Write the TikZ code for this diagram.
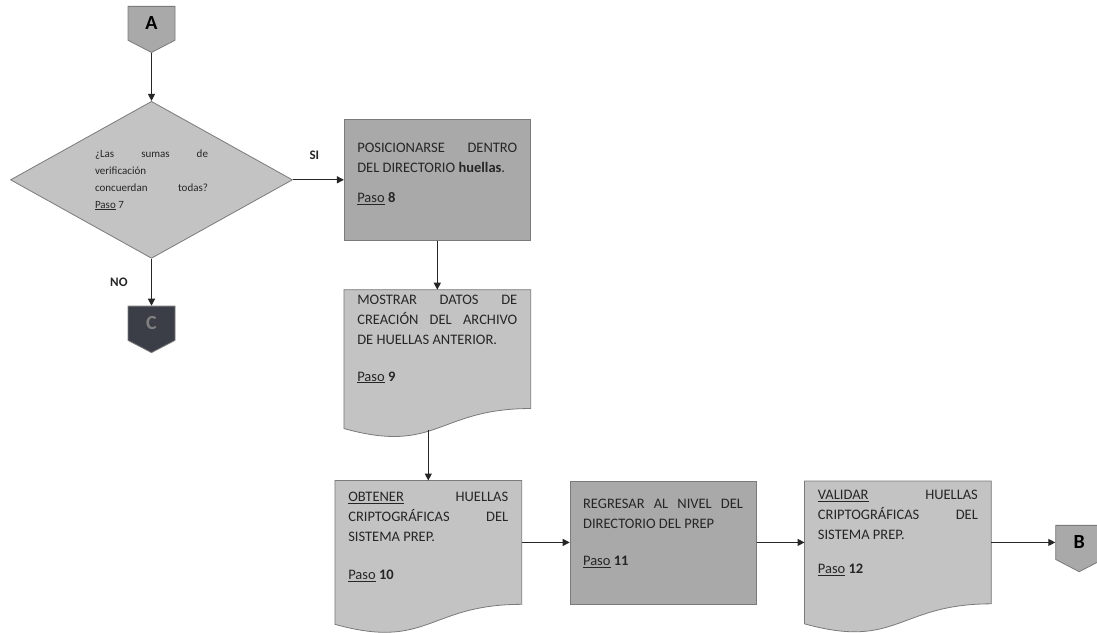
\documentclass[tikz,border=0pt]{standalone}
\usepackage{fontspec}
\setmainfont{Carlito}
\usepackage{tikz}
\usetikzlibrary{shapes.geometric,shapes.symbols,arrows.meta,positioning,backgrounds,calc}

\definecolor{boxdark}{HTML}{A9A9A9}
\definecolor{boxlight}{HTML}{C3C3C3}
\definecolor{boxline}{HTML}{7A7A7A}
\definecolor{conndark}{HTML}{3B3E47}

% text block of a step box: height, space above, lines
\newcommand{\steptext}[3]{\parbox[c][#1][t]{160pt}{\vspace*{#2}\strut #3}}

\begin{document}
\begin{tikzpicture}[
  x=1pt, y=1pt,
  proc/.style={rectangle, draw=boxline, fill=boxdark, line width=0.8pt,
              inner xsep=13pt, inner ysep=0pt, text=black!85,
              font=\fontsize{14.5}{20}\selectfont},
  docu/.style={proc, draw=none, fill=none},
  docfill/.style={draw=boxline, fill=boxlight, line width=0.8pt},
  conn/.style={signal, signal to=south, signal pointer angle=125,
              draw=boxline, fill=boxdark, line width=0.8pt,
              minimum width=47pt, minimum height=37pt, inner sep=0pt,
              font=\fontsize{20}{20}\selectfont\bfseries},
  decision/.style={diamond, aspect=1.8, draw=boxline, fill=boxlight, line width=0.8pt,
              minimum width=282pt, minimum height=157pt, inner sep=0pt,
              text=black!85, font=\fontsize{11}{17}\selectfont},
  lbl/.style={font=\fontsize{13}{13}\selectfont\bfseries, text=black!85},
  arr/.style={-{Triangle[length=7pt,width=7pt]}, line width=1.2pt, draw=black!85},
]
\useasboundingbox (0,0) rectangle (1097,632);

\node[conn, anchor=north] (a) at (151.5,626) {A};
\node[decision, below=48pt of a] (chk)
  {\parbox{113pt}{¿Las\hfill sumas\hfill de\\ verificación\\ concuerdan\hfill todas?\\ \underline{Paso} 7}};
\node[conn, fill=conndark, text=gray, below=47pt of chk] (c) {C};

\node[proc, right=51pt of chk] (pas8)
  {\steptext{121pt}{19pt}{POSICIONARSE\hfill DENTRO\\ DEL DIRECTORIO \textbf{huellas}.\\[10pt] \underline{Paso} \textbf{8}}};
\node[docu, below=49pt of pas8] (pas9)
  {\steptext{118pt}{0pt}{MOSTRAR\hfill DATOS\hfill DE\\ CREACIÓN\hfill DEL\hfill ARCHIVO\\ DE HUELLAS ANTERIOR.\\[17pt] \underline{Paso} \textbf{9}}};
\node[docu, below=72pt of pas9, xshift=-9pt] (pas10)
  {\steptext{123pt}{7pt}{\underline{OBTENER}\hfill HUELLAS\\ CRIPTOGRÁFICAS\hfill DEL\\ SISTEMA PREP.\\[18pt] \underline{Paso} \textbf{10}}};
\node[proc, right=48pt of pas10] (pas11)
  {\steptext{123pt}{14pt}{REGRESAR\hfill AL\hfill NIVEL\hfill DEL\\ DIRECTORIO DEL PREP\\[17pt] \underline{Paso} \textbf{11}}};
\node[docu, right=48pt of pas11] (pas12)
  {\steptext{122pt}{4pt}{\underline{VALIDAR}\hfill HUELLAS\\ CRIPTOGRÁFICAS\hfill DEL\\ SISTEMA PREP.\\[14pt] \underline{Paso} \textbf{12}}};
\node[conn, right=64pt of pas12] (b) {B};

\coordinate (w9) at ($(pas9.south)+(0,-21)$);

\draw[arr] (a.south) -- (chk.north);
\draw[arr] (chk.south) -- (c.north) node[midway, left=20pt, lbl] {NO};
\draw[arr] (chk.east) -- (chk.east -| pas8.west) node[pos=0.42, above=16pt, lbl] {SI};
\draw[arr] (pas8.south) -- (pas8.south |- pas9.north);
\draw[arr] (w9 -| pas10.north) -- (pas10.north);
\draw[arr] (pas10.east) -- (pas11.west);
\draw[arr] (pas11.east) -- (pas11.east -| pas12.west);
\draw[arr] (pas12.east) -- (pas12.east -| b.west);

\begin{scope}[on background layer]
\fill[white] (0,0) rectangle (1097,632);
\foreach \n in {pas9,pas10,pas12}
  \draw[docfill] (\n.north west) -- (\n.north east) -- (\n.south east)
    .. controls (\n.south) and ($(\n.south)+(0,-46)$) .. ($(\n.south west)+(0,-20)$) -- cycle;
\end{scope}
\end{tikzpicture}
\end{document}
